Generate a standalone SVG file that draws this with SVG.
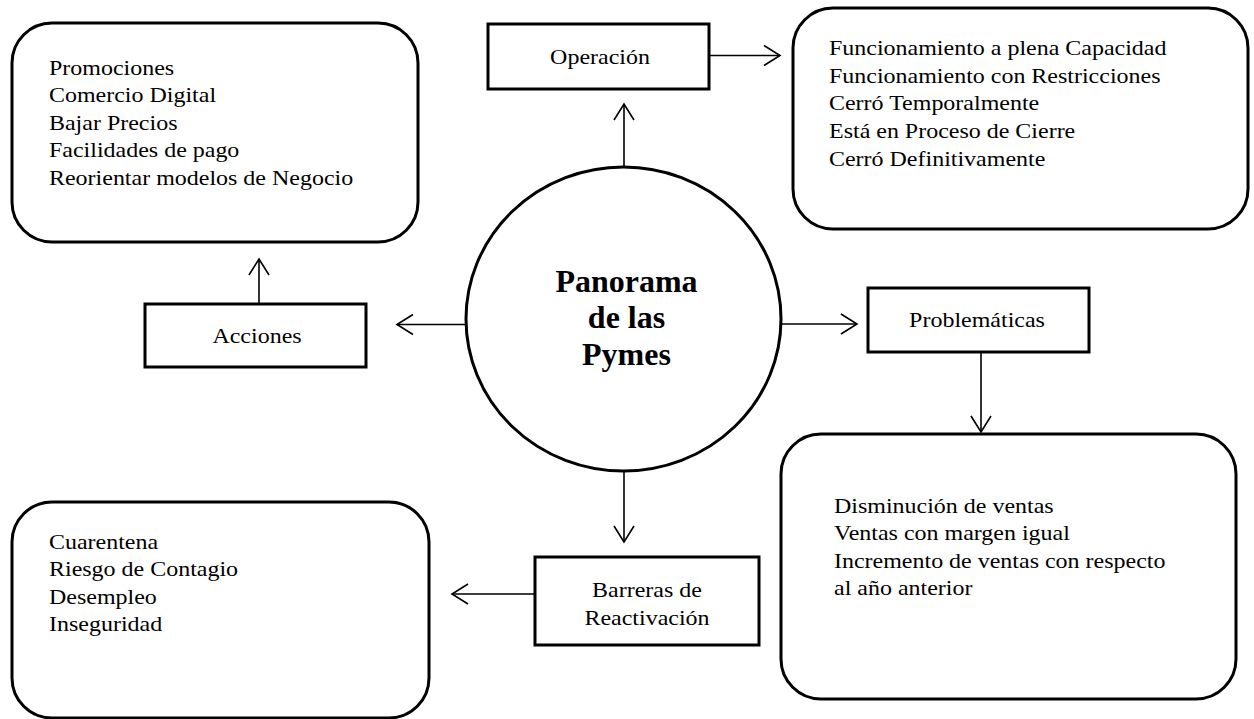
<svg xmlns="http://www.w3.org/2000/svg" width="1254" height="719" viewBox="0 0 1254 719">
  <style>
    .panel { fill: #ffffff; stroke: #000000; stroke-width: 3; }
    .label { fill: #ffffff; stroke: #000000; stroke-width: 3; }
    .hub { fill: #ffffff; stroke: #000000; stroke-width: 3; }
    .body { font-family: "Liberation Serif", "Times New Roman", serif; font-size: 22px; fill: #000000; }
    .cap { font-family: "Liberation Serif", "Times New Roman", serif; font-size: 22px; fill: #000000; text-anchor: middle; }
    .title { font-family: "Liberation Serif", "Times New Roman", serif; font-size: 32px; font-weight: bold; fill: #000000; text-anchor: middle; }
    .link { fill: none; stroke: #000000; stroke-width: 1.6; marker-end: url(#open-arrow); }
  </style>
  <defs>
    <marker id="open-arrow" markerUnits="userSpaceOnUse" viewBox="-19 -12 21 24" refX="0" refY="0" markerWidth="21" markerHeight="24" orient="auto">
      <path d="M -16,-10 L 0,0 L -16,10" fill="none" stroke="#000000" stroke-width="1.6" stroke-linejoin="miter"/>
    </marker>
  </defs>

  <rect width="1254" height="719" fill="#ffffff"/>

  <!-- connectors -->
  <g id="connectors">
    <path class="link" d="M 624,167 L 624,104"/>
    <path class="link" d="M 709,55.5 L 780,55.5"/>
    <path class="link" d="M 466,324.5 L 397,324.5"/>
    <path class="link" d="M 259,304 L 259,259"/>
    <path class="link" d="M 781,324 L 857,324"/>
    <path class="link" d="M 981,352 L 981,432"/>
    <path class="link" d="M 624,471 L 624,542"/>
    <path class="link" d="M 535,594 L 452,594"/>
  </g>

  <!-- central hub -->
  <g id="hub">
    <ellipse class="hub" cx="623.5" cy="319" rx="157.5" ry="152"/>
    <text class="title" x="626.5" y="292">Panorama</text>
    <text class="title" x="626.5" y="328">de las</text>
    <text class="title" x="626.5" y="365">Pymes</text>
  </g>

  <!-- Operación -->
  <g id="operacion">
    <rect class="label" x="488" y="24" width="221" height="65"/>
    <text class="cap" transform="translate(600,64) scale(1.09,1)">Operación</text>
  </g>
  <g id="operacion-detalle">
    <rect class="panel" x="793" y="8" width="455" height="221" rx="40" ry="40"/>
    <g transform="translate(829,55) scale(1.09,1)">
      <text class="body">
        <tspan x="0" y="0">Funcionamiento a plena Capacidad</tspan>
        <tspan x="0" y="27.7">Funcionamiento con Restricciones</tspan>
        <tspan x="0" y="55.4">Cerró Temporalmente</tspan>
        <tspan x="0" y="83.1">Está en Proceso de Cierre</tspan>
        <tspan x="0" y="110.8">Cerró Definitivamente</tspan>
      </text>
    </g>
  </g>

  <!-- Acciones -->
  <g id="acciones">
    <rect class="label" x="145" y="304" width="221" height="63"/>
    <text class="cap" transform="translate(257,343) scale(1.09,1)">Acciones</text>
  </g>
  <g id="acciones-detalle">
    <rect class="panel" x="12" y="23" width="406" height="219" rx="40" ry="40"/>
    <g transform="translate(49,75) scale(1.09,1)">
      <text class="body">
        <tspan x="0" y="0">Promociones</tspan>
        <tspan x="0" y="27.5">Comercio Digital</tspan>
        <tspan x="0" y="55">Bajar Precios</tspan>
        <tspan x="0" y="82.5">Facilidades de pago</tspan>
        <tspan x="0" y="110">Reorientar modelos de Negocio</tspan>
      </text>
    </g>
  </g>

  <!-- Problemáticas -->
  <g id="problematicas">
    <rect class="label" x="868" y="288" width="221" height="64"/>
    <text class="cap" transform="translate(977,327) scale(1.09,1)">Problemáticas</text>
  </g>
  <g id="problematicas-detalle">
    <rect class="panel" x="781" y="434" width="455" height="265" rx="40" ry="40"/>
    <g transform="translate(834,513) scale(1.09,1)">
      <text class="body">
        <tspan x="0" y="0">Disminución de ventas</tspan>
        <tspan x="0" y="27.5">Ventas con margen igual</tspan>
        <tspan x="0" y="55">Incremento de ventas con respecto</tspan>
        <tspan x="0" y="82.5">al año anterior</tspan>
      </text>
    </g>
  </g>

  <!-- Barreras de Reactivación -->
  <g id="barreras">
    <rect class="label" x="535" y="557" width="224" height="88"/>
    <text class="cap" transform="translate(647,597) scale(1.09,1)">Barreras de</text>
    <text class="cap" transform="translate(647,624.5) scale(1.09,1)">Reactivación</text>
  </g>
  <g id="barreras-detalle">
    <rect class="panel" x="12" y="502" width="417" height="216" rx="40" ry="40"/>
    <g transform="translate(49,549) scale(1.09,1)">
      <text class="body">
        <tspan x="0" y="0">Cuarentena</tspan>
        <tspan x="0" y="27.5">Riesgo de Contagio</tspan>
        <tspan x="0" y="55">Desempleo</tspan>
        <tspan x="0" y="82.5">Inseguridad</tspan>
      </text>
    </g>
  </g>
</svg>
